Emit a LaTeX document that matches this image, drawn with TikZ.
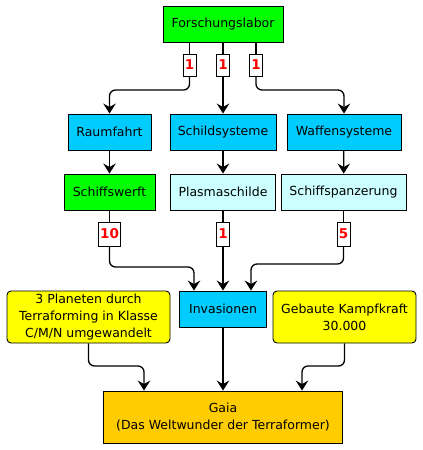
\documentclass[tikz,border=0pt]{standalone}
\usepackage{fontspec}
\setmainfont{DejaVu Sans}
\usetikzlibrary{arrows.meta}
\definecolor{gruen}{HTML}{00FF00}
\definecolor{blau}{HTML}{00CCFF}
\definecolor{hellblau}{HTML}{CCFFFF}
\definecolor{gelb}{HTML}{FFFF00}
\definecolor{orange}{HTML}{FFCC00}
\definecolor{rot}{HTML}{FF0000}

\begin{document}
\begin{tikzpicture}[x=1pt,y=-1pt,
  box/.style={draw,line width=0.9pt,minimum height=36pt,inner sep=0pt,align=center,font=\fontsize{12.5}{17}\selectfont},
  note/.style={box,rounded corners=4pt,fill=gelb,minimum height=52pt},
  num/.style={draw,fill=white,line width=0.9pt,minimum width=13pt,minimum height=22pt,inner sep=1.2pt,text=rot,font=\fontsize{13.5}{13.5}\selectfont\bfseries},
  kante/.style={line width=1.3pt},
  pfeil/.style={line width=1.3pt,-{Stealth[length=10pt,width=12.5pt,inset=3.5pt]},rounded corners=6pt}]
\useasboundingbox (0,0) rectangle (423,450);

\node[box,fill=gruen,minimum width=120pt](forsch) at (223,24) {Forschungslabor};
\node[box,fill=blau,minimum width=83pt](raum) at (109.5,132) {Raumfahrt};
\node[box,fill=blau,minimum width=106pt](schild) at (223,132) {Schildsysteme};
\node[box,fill=blau,minimum width=114pt](waffen) at (344,132) {Waffensysteme};
\node[box,fill=gruen,minimum width=91pt](werft) at (109.5,192) {Schiffswerft};
\node[box,fill=hellblau,minimum width=105pt](plasma) at (223,192) {Plasmaschilde};
\node[box,fill=hellblau,minimum width=125pt](panzer) at (343.5,192) {Schiffspanzerung};
\node[box,fill=blau,minimum width=87pt](inv) at (223,309) {Invasionen};
\node[note,minimum width=163pt](terra) at (88.5,317) {3 Planeten durch\\Terraforming in Klasse\\C/M/N umgewandelt};
\node[note,minimum width=143pt](kampf) at (344.5,317) {Gebaute Kampfkraft\\30.000};
\node[box,fill=orange,minimum width=239pt,minimum height=52pt](gaia) at (223,417) {Gaia\\(Das Weltwunder der Terraformer)};

\node[num](l1) at (189.5,65) {1};
\node[num](l2) at (223,65) {1};
\node[num](l3) at (256,65) {1};
\node[num,minimum height=24pt](l4) at (109.5,234) {10};
\node[num,minimum height=24pt](l5) at (223,234) {1};
\node[num,minimum height=24pt](l6) at (343.5,234) {5};

\draw[kante] (forsch.south -| l1) -- (l1);
\draw[kante] (forsch.south -| l2) -- (l2);
\draw[kante] (forsch.south -| l3) -- (l3);
\draw[pfeil] (l1) -- ++(0,25) -| (raum);
\draw[pfeil] (l2) -- (schild);
\draw[pfeil] (l3) -- ++(0,25) -| (waffen);
\draw[pfeil] (raum) -- (werft);
\draw[pfeil] (schild) -- (plasma);
\draw[pfeil] (waffen) -- (panzer);
\draw[kante] (werft) -- (l4);
\draw[kante] (plasma) -- (l5);
\draw[kante] (panzer) -- (l6);
\draw[pfeil] (l4) -- ++(0,33) -| ([xshift=-29pt]inv.north);
\draw[pfeil] (l5) -- (inv);
\draw[pfeil] (l6) -- ++(0,30) -| ([xshift=28pt]inv.north);
\draw[pfeil] (terra) -- ++(0,49) -| ([xshift=-79pt]gaia.north);
\draw[pfeil] (inv) -- (gaia);
\draw[pfeil] (kampf) -- ++(0,49) -| ([xshift=79pt]gaia.north);
\end{tikzpicture}
\end{document}
